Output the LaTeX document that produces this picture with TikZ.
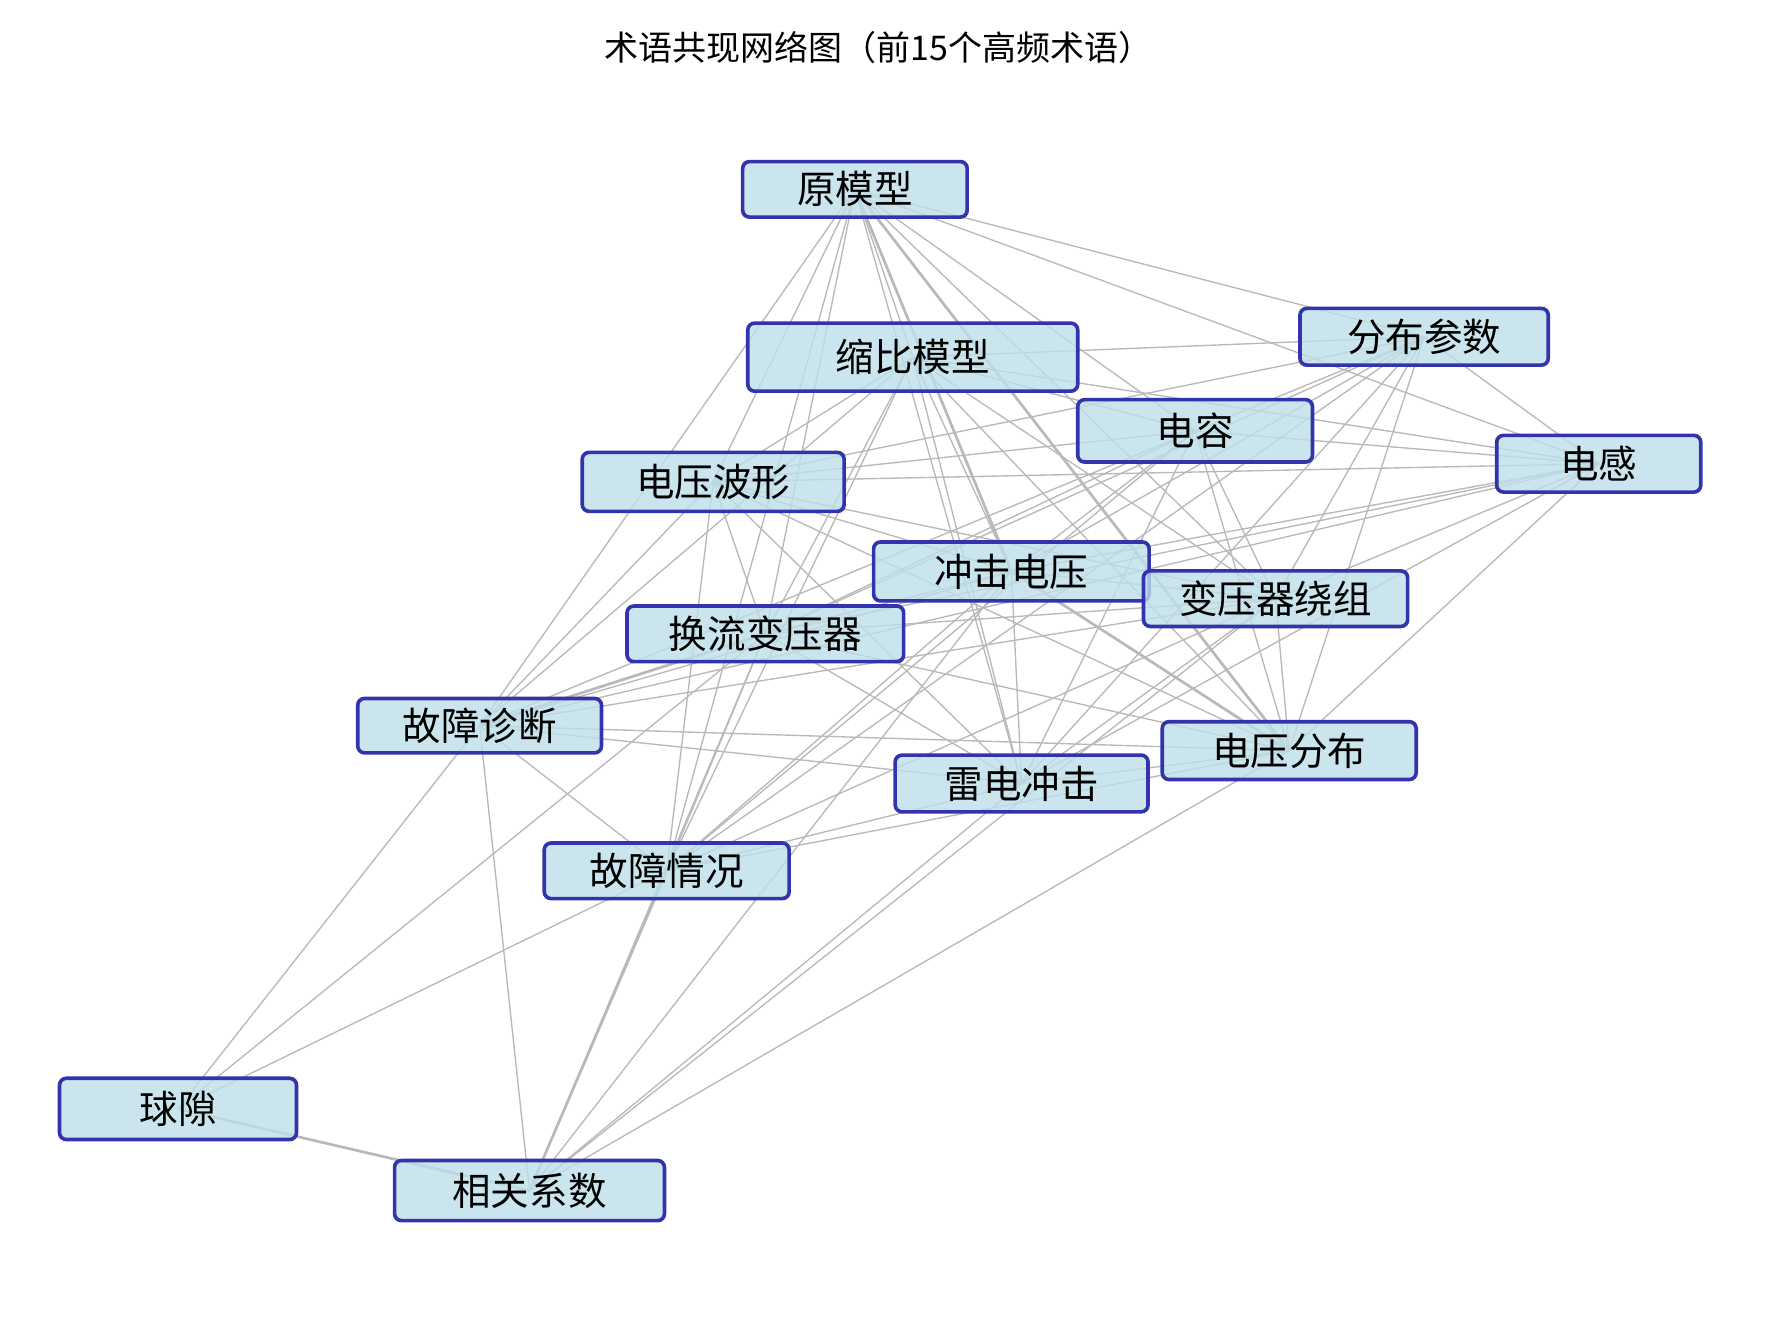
\documentclass[tikz,border=0pt]{standalone}
\usepackage{fontspec}
\setmainfont{Noto Sans CJK SC}
\begin{document}
\begin{tikzpicture}[x=0.5pt,y=-0.5pt,
 term/.style={draw=blue!60!black!80,line width=1.6pt,fill=cyan!30!gray!25!white,fill=lightblue,rounded corners=3pt,font=\fontsize{17}{17}\selectfont,inner sep=0pt},
 ed/.style={draw=gray!55,line width=0.6pt}]
\definecolor{lightblue}{HTML}{BDDFEA}
\useasboundingbox (0,0) rectangle (1569,1170);
\node[font=\fontsize{15}{15}\selectfont] (title) at (775,42) {术语共现网络图（前15个高频术语）};
\foreach \n/\x/\y/\w/\h/\t in {a/754/167/198/49/原模型,b/805/315/291/60/缩比模型,c/1256/297/219/50/分布参数,d/1054/380/207/55/电容,e/1410/409/180/50/电感,f/629/425/231/52/电压波形,g/892/504/243/52/冲击电压,h/1125/528/233/49/变压器绕组,i/675/559/244/49/换流变压器,j/423/640/215/48/故障诊断,k/1137/662/224/51/电压分布,l/901/691/223/50/雷电冲击,m/588/768/216/49/故障情况,n/157/978/209/54/球隙,o/467/1050/238/53/相关系数}
  \coordinate (\n) at (\x,\y);
\begin{scope}[on background layer/.try]
\foreach \p/\q in {a/b,a/c,a/d,a/e,a/f,a/g,a/h,a/i,a/j,a/k,a/l,a/m,
 b/c,b/d,b/e,b/f,b/g,b/h,b/i,b/j,b/k,b/l,b/m,
 c/d,c/e,c/f,c/g,c/h,c/i,c/k,c/l,c/m,
 d/e,d/f,d/g,d/h,d/i,d/j,d/k,d/l,d/m,
 e/f,e/g,e/h,e/i,e/j,e/k,e/l,
 f/g,f/h,f/i,f/j,f/k,f/l,f/m,
 g/h,g/i,g/j,g/k,g/l,g/m,
 h/i,h/j,h/k,h/l,h/m,
 i/j,i/k,i/l,i/m,
 j/k,j/l,j/m,j/o,j/n,
 k/l,k/m,k/o,l/m,l/o,
 m/n,m/o,i/n,i/o,g/o,n/o,h/o}
 \draw[ed] (\p) -- (\q);
\draw[ed,line width=1.2pt] (n) -- (o) (m) -- (o) (a) -- (g) (a) -- (k) (i) -- (j) (g) -- (k);
\end{scope}
\foreach \n/\x/\y/\w/\h/\t in {a/754/167/198/49/原模型,b/805/315/291/60/缩比模型,c/1256/297/219/50/分布参数,d/1054/380/207/55/电容,e/1410/409/180/50/电感,f/629/425/231/52/电压波形,g/892/504/243/52/冲击电压,h/1125/528/233/49/变压器绕组,i/675/559/244/49/换流变压器,j/423/640/215/48/故障诊断,k/1137/662/224/51/电压分布,l/901/691/223/50/雷电冲击,m/588/768/216/49/故障情况,n/157/978/209/54/球隙,o/467/1050/238/53/相关系数}
  \node[term,fill opacity=0.8,text opacity=1,minimum width=\w*0.5pt,minimum height=\h*0.5pt] (N\n) at (\x,\y) {\t};
\end{tikzpicture}
\end{document}
